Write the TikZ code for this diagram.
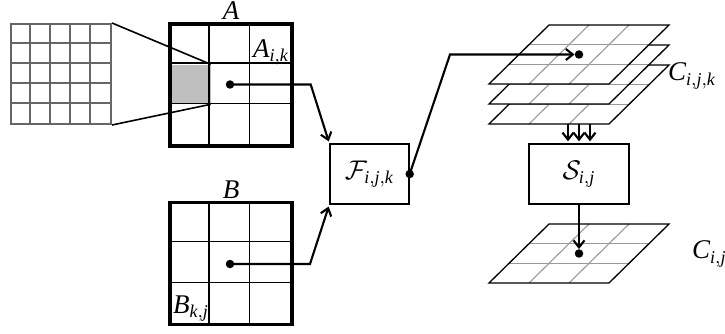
\documentclass[tikz,border=0pt]{standalone}
\usepackage{graphicx}
\usepackage{fontspec}
\setmainfont{Liberation Serif}
\usetikzlibrary{arrows.meta,calc}
\newcommand{\bigtxt}[1]{\scalebox{2.25}{\fontsize{12}{14}\selectfont #1}}
\begin{document}
\begin{tikzpicture}[x=1pt,y=-1pt,
  lbl/.style={inner sep=0pt},
  thickbox/.style={draw, line width=3.3pt, minimum width=122pt, minimum height=122pt, inner sep=0pt},
  cellline/.style={line width=1.3pt},
  graybox/.style={draw=black!60, line width=2pt, minimum width=100pt, minimum height=100pt, inner sep=0pt},
  grayline/.style={draw=black!60, line width=1.3pt},
  opbox/.style={draw, line width=1.4pt, inner sep=0pt},
  conn/.style={line width=2.1pt, line join=miter},
  arr/.style={conn, -{Straight Barb[length=7pt,width=11pt,line width=2.1pt]}},
  dot/.style={circle, fill=black, inner sep=0pt, minimum size=8.5pt},
  planeedge/.style={line width=1.3pt, fill=white, line join=miter},
  planegrid/.style={draw=black!40, line width=1.1pt}
]
\useasboundingbox (0,0) rectangle (725,334);

% small zoomed grid
\node[graybox] (G) at (61,74) {};
\foreach \i in {1,...,4}{
  \draw[grayline] ($(G.north west)+(20*\i,0)$) -- ($(G.south west)+(20*\i,0)$);
  \draw[grayline] ($(G.north west)+(0,20*\i)$) -- ($(G.north east)+(0,20*\i)$);
}

% matrix A
\fill[black!25] (171,64.7) rectangle (210.7,104.3);
\node[thickbox] (A) at (231,85) {};
\foreach \d in {40.7,81.3}{
  \draw[cellline] ($(A.north west)+(\d,0)$) -- ($(A.south west)+(\d,0)$);
  \draw[cellline] ($(A.north west)+(0,\d)$) -- ($(A.north east)+(0,\d)$);
}
\coordinate (gtr) at (210.7,64.3);
\coordinate (gbr) at (210.7,104.3);
\draw[line width=1.6pt] (G.north east) -- (gtr);
\draw[line width=1.6pt] (G.south east) -- (gbr);
\node[lbl] (Alab) at (231,11) {\bigtxt{$\mathit{A}$}};
\node[lbl] (Aik) at (271,52) {\bigtxt{$\mathit{A}_{\mathit{i,k}}$}};
\node[dot] (Ad) at (230,84.5) {};

% matrix B
\node[thickbox] (B) at (231,263.5) {};
\foreach \d in {40.7,81.3}{
  \draw[cellline] ($(B.north west)+(\d,0)$) -- ($(B.south west)+(\d,0)$);
  \draw[cellline] ($(B.north west)+(0,\d)$) -- ($(B.north east)+(0,\d)$);
}
\node[lbl] (Blab) at (231,190) {\bigtxt{$\mathit{B}$}};
\node[lbl] (Bkj) at (191,309) {\bigtxt{$\mathit{B}_{\mathit{k,j}}$}};
\node[dot] (Bd) at (230,264) {};

% F box
\node[opbox, minimum width=79pt, minimum height=60pt] (F) at (369.5,174) {\bigtxt{$\mathcal{F}_{\mathit{i,j,k}}$}};
\node[dot] (Fd) at (F.east) {};

% stacked planes C_{i,j,k}
\foreach \yb in {124,104,84}{
  \begin{scope}[shift={(0,\yb)}]
    \path[planeedge] (489,0) -- (609,0) -- (669,-59) -- (549,-59) -- cycle;
    \draw[planegrid] (509,-19.67) -- (629,-19.67);
    \draw[planegrid] (529,-39.33) -- (649,-39.33);
    \draw[planegrid] (529,0) -- (589,-59);
    \draw[planegrid] (569,0) -- (629,-59);
    \draw[line width=1.3pt, line join=miter] (489,0) -- (609,0) -- (669,-59) -- (549,-59) -- cycle;
  \end{scope}
}
\node[dot] (Cd) at (579,54.5) {};
\node[lbl, anchor=west] (Cijk) at (668,76) {\bigtxt{$\mathit{C}_{\mathit{i},\mathit{j},\mathit{k}}$}};

% S box
\node[opbox, minimum width=100pt, minimum height=60pt] (S) at (579,174) {\bigtxt{$\mathcal{S}_{\mathit{i,j}}$}};

% bottom plane C_{i,j}
\begin{scope}[shift={(0,283)}]
  \path[planeedge] (489,0) -- (609,0) -- (669,-59) -- (549,-59) -- cycle;
  \draw[planegrid] (509,-19.67) -- (629,-19.67);
  \draw[planegrid] (529,-39.33) -- (649,-39.33);
  \draw[planegrid] (529,0) -- (589,-59);
  \draw[planegrid] (569,0) -- (629,-59);
  \draw[line width=1.3pt, line join=miter] (489,0) -- (609,0) -- (669,-59) -- (549,-59) -- cycle;
\end{scope}
\node[dot] (Cd2) at (579,253.5) {};
\node[lbl, anchor=west] (Cij) at (692,254) {\bigtxt{$\mathit{C}_{\mathit{i},\mathit{j}}$}};

% connectors
\coordinate (Abend) at (310.7,84.5);
\coordinate (Bbend) at (310,264);
\coordinate (Fbend) at (450,54.5);
\draw[arr, shorten >=2pt] (Ad.center) -- (Abend) -- (F.north west);
\draw[arr, shorten >=2pt] (Bd.center) -- (Bbend) -- (F.south west);
\draw[arr] (Fd.center) -- (Fbend) -- (Cd.west);
\foreach \dx in {-11,0,11}{
  \coordinate (st\dx) at (579+\dx,124);
  \draw[arr, shorten >=2pt] (st\dx) -- ($(S.north)+(\dx,0)$);
}
\draw[arr] (S.south) -- (Cd2.north);
\end{tikzpicture}
\end{document}
